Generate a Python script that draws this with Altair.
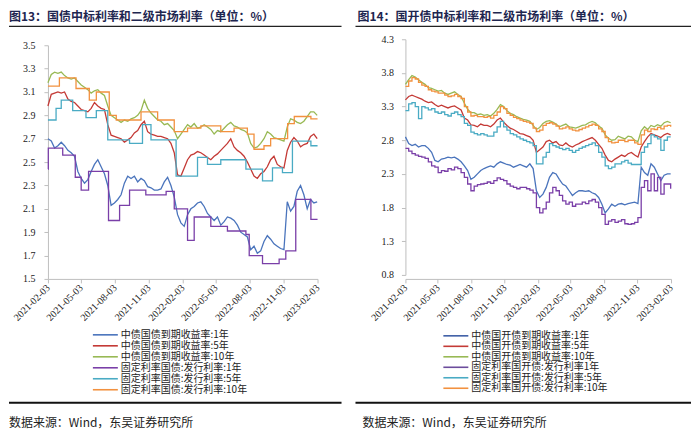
import altair as alt
import pandas as pd

# ---------------- data ----------------
GRID = pd.date_range("2021-02-03", periods=82, freq="9D")

L_NAMES = ["中债国债到期收益率:1年", "中债国债到期收益率:5年", "中债国债到期收益率:10年",
           "固定利率国债:发行利率:1年", "固定利率国债:发行利率:5年", "固定利率国债:发行利率:10年"]
R_NAMES = ["中债国开债到期收益率:1年", "中债国开债到期收益率:5年", "中债国开债到期收益率:10年",
           "固定利率国开债:发行利率1年", "固定利率国开债:发行利率:5年", "固定利率国开债:发行利率:10年"]

L_Y1 = [2.70,2.68,2.62,2.64,2.67,2.64,2.60,2.58,2.55,2.42,
        2.36,2.32,2.35,2.42,2.48,2.52,2.46,2.40,2.30,2.13,
        2.15,2.18,2.22,2.32,2.38,2.36,2.38,2.33,2.36,2.34,
        2.29,2.28,2.26,2.26,2.27,2.33,2.37,2.30,2.20,2.05,
        1.98,1.95,2.05,2.10,2.12,2.15,2.16,2.12,2.06,2.03,
        2.00,2.03,1.96,1.99,2.03,2.02,2.00,1.96,1.90,1.88,
        1.86,1.75,1.78,1.72,1.74,1.82,1.87,1.84,1.80,1.78,
        1.76,1.75,2.16,2.08,2.12,2.25,2.30,2.22,2.10,2.18,
        2.15,2.16]
L_Y5 = [2.98,3.08,3.09,3.10,3.09,3.10,3.04,3.02,3.01,2.98,
        2.95,2.94,2.93,2.96,3.01,2.98,2.96,2.95,2.82,2.73,
        2.72,2.71,2.70,2.67,2.69,2.71,2.75,2.77,2.82,2.85,
        2.76,2.74,2.73,2.72,2.72,2.71,2.70,2.66,2.58,2.39,
        2.38,2.45,2.52,2.56,2.57,2.59,2.58,2.56,2.54,2.52,
        2.55,2.57,2.60,2.63,2.66,2.70,2.63,2.60,2.58,2.55,
        2.50,2.44,2.38,2.36,2.40,2.42,2.46,2.52,2.55,2.48,
        2.46,2.45,2.60,2.67,2.71,2.68,2.63,2.65,2.66,2.72,
        2.74,2.70]
L_Y10 = [3.18,3.25,3.27,3.26,3.27,3.24,3.22,3.21,3.22,3.19,
         3.16,3.14,3.12,3.09,3.11,3.12,3.09,3.07,2.98,2.90,
         2.88,2.86,2.84,2.86,2.85,2.87,2.88,2.90,2.94,3.03,
         2.96,2.92,2.89,2.86,2.85,2.82,2.83,2.80,2.77,2.70,
         2.74,2.78,2.82,2.80,2.83,2.79,2.80,2.82,2.80,2.78,
         2.74,2.77,2.76,2.79,2.82,2.84,2.81,2.80,2.78,2.77,
         2.75,2.66,2.62,2.63,2.66,2.70,2.76,2.74,2.71,2.70,
         2.69,2.68,2.80,2.87,2.86,2.84,2.83,2.85,2.89,2.93,
         2.93,2.90]

L_S1_DATES = ["2021-02-03","2021-02-04","2021-03-15","2021-04-18","2021-05-04","2021-05-24",
              "2021-07-17","2021-08-16","2021-09-12","2021-10-26","2021-12-20","2022-01-11",
              "2022-02-16","2022-03-06","2022-04-20","2022-06-04","2022-07-24","2022-08-02",
              "2022-09-07","2022-10-22","2022-11-09","2022-12-06","2023-01-16","2023-02-03"]
L_S1 = [2.44,2.62,2.56,2.37,2.26,2.42,2.00,2.13,2.26,2.22,2.25,2.10,
        1.83,2.03,1.95,1.91,1.88,1.70,1.63,1.67,1.74,2.18,2.01,2.01]
L_S5_DATES = ["2021-02-03","2021-02-25","2021-03-11","2021-04-11","2021-05-17","2021-06-14",
              "2021-07-15","2021-09-12","2021-10-17","2021-11-09","2022-01-16","2022-03-15",
              "2022-04-11","2022-05-17","2022-07-24","2022-09-07","2022-10-04","2022-10-31",
              "2022-11-27","2023-01-16","2023-02-03"]
L_S5 = [2.86,2.96,3.03,2.94,2.88,2.94,2.69,2.66,2.82,2.69,2.38,2.54,
        2.48,2.52,2.44,2.34,2.45,2.41,2.68,2.64,2.64]
L_S10_DATES = ["2021-02-03","2021-03-06","2021-04-20","2021-05-26","2021-06-14","2021-07-19",
               "2021-08-07","2021-10-13","2021-11-27","2022-01-11","2022-02-16","2022-03-24",
               "2022-05-17","2022-06-22","2022-07-28","2022-08-15","2022-09-11","2022-09-29",
               "2022-11-14","2022-12-02","2023-01-16","2023-02-03"]
L_S10 = [3.15,3.22,3.13,3.03,3.10,2.90,2.86,2.93,2.86,2.76,2.79,2.81,
         2.76,2.79,2.74,2.61,2.64,2.70,2.83,2.89,2.87,2.87]

R_Y1 = [2.85,2.75,2.72,2.74,2.70,2.72,2.72,2.68,2.62,2.50,
        2.48,2.52,2.53,2.55,2.54,2.55,2.52,2.48,2.42,2.35,
        2.22,2.25,2.30,2.35,2.38,2.40,2.42,2.40,2.45,2.48,
        2.46,2.44,2.43,2.40,2.42,2.44,2.42,2.40,2.45,2.38,
        2.05,1.95,2.00,2.10,2.25,2.32,2.30,2.22,2.15,2.12,
        2.05,1.98,2.02,2.05,2.05,2.04,2.05,2.02,2.00,1.95,
        1.85,1.72,1.78,1.85,1.82,1.85,1.86,1.84,1.86,1.87,
        1.88,1.86,2.40,2.32,2.28,2.45,2.40,2.30,2.20,2.28,
        2.30,2.30]
R_Y5 = [3.40,3.45,3.47,3.45,3.43,3.41,3.38,3.36,3.37,3.33,
        3.30,3.32,3.30,3.28,3.30,3.31,3.28,3.25,3.13,3.10,
        3.03,3.02,3.00,3.04,3.02,3.02,3.00,3.04,3.10,3.13,
        3.07,3.02,2.98,2.96,2.93,2.90,2.89,2.87,2.85,2.80,
        2.62,2.66,2.70,2.78,2.80,2.76,2.78,2.73,2.72,2.76,
        2.72,2.70,2.73,2.75,2.78,2.80,2.82,2.84,2.80,2.74,
        2.68,2.58,2.50,2.48,2.52,2.55,2.58,2.56,2.60,2.62,
        2.58,2.55,2.70,2.78,2.85,2.90,2.88,2.86,2.84,2.88,
        2.90,2.88]
R_Y10 = [3.63,3.70,3.76,3.74,3.70,3.66,3.63,3.58,3.57,3.55,
         3.53,3.54,3.50,3.48,3.50,3.52,3.48,3.45,3.35,3.26,
         3.21,3.21,3.18,3.19,3.17,3.18,3.16,3.20,3.26,3.33,
         3.30,3.24,3.20,3.18,3.15,3.13,3.11,3.10,3.08,3.02,
         2.96,2.99,3.05,3.08,3.09,3.07,3.04,3.00,3.02,3.04,
         3.00,2.99,2.98,3.00,3.02,3.03,3.06,3.08,3.06,3.01,
         2.98,2.88,2.83,2.80,2.81,2.86,2.84,2.82,2.86,2.85,
         2.80,2.78,2.94,3.00,2.96,3.02,3.00,3.03,3.01,3.06,
         3.08,3.06]
R_S1 = [2.68,2.64,2.60,2.58,2.56,2.55,2.53,2.48,2.42,2.40,
        2.32,2.35,2.34,2.38,2.36,2.40,2.38,2.32,2.25,2.15,
        2.05,2.12,2.14,2.15,2.16,2.18,2.16,2.20,2.24,2.22,
        2.20,2.15,2.12,2.10,2.08,2.10,2.10,2.08,2.06,2.02,
        1.80,1.72,1.78,1.88,2.02,2.10,2.05,1.98,1.90,1.85,
        1.88,1.82,1.85,1.85,1.88,1.86,1.90,1.92,1.88,1.80,
        1.70,1.55,1.60,1.62,1.58,1.60,1.62,1.56,1.55,1.56,
        1.58,1.65,2.10,2.20,2.05,2.30,2.05,2.25,2.00,2.15,
        2.15,2.08]
R_S5 = [3.24,3.34,3.36,3.30,3.12,3.30,3.28,3.25,3.27,3.22,
        3.20,3.22,3.18,3.16,3.20,3.22,3.18,3.15,3.05,3.02,
        2.92,2.90,2.88,2.90,2.88,2.86,2.86,2.92,3.00,3.08,
        3.00,2.95,2.90,2.88,2.85,2.82,2.80,2.78,2.76,2.72,
        2.45,2.45,2.55,2.62,2.75,2.72,2.70,2.68,2.66,2.68,
        2.65,2.62,2.65,2.68,2.70,2.72,2.74,2.76,2.72,2.62,
        2.55,2.42,2.38,2.40,2.45,2.45,2.48,2.50,2.46,2.44,
        2.44,2.44,2.62,2.70,2.75,2.88,2.85,2.82,2.65,2.80,
        2.85,2.85]
R_S10 = [3.60,3.68,3.73,3.71,3.66,3.62,3.60,3.55,3.53,3.52,
         3.50,3.50,3.47,3.45,3.46,3.48,3.45,3.42,3.30,3.22,
         3.16,3.17,3.15,3.15,3.14,3.15,3.13,3.17,3.22,3.30,
         3.27,3.20,3.17,3.14,3.12,3.10,3.08,3.07,3.05,2.98,
         2.93,2.95,3.02,3.05,3.06,3.04,3.01,2.97,2.98,3.00,
         2.97,2.95,2.94,2.96,2.98,3.00,3.02,3.04,3.02,2.97,
         2.93,2.84,2.78,2.76,2.77,2.80,2.80,2.78,2.80,2.80,
         2.76,2.74,2.88,2.95,2.93,2.97,2.96,2.99,2.97,3.01,
         3.02,3.00]

L_COLORS = ["#4A74BC", "#C43A36", "#98B954", "#7A3FA8", "#4AABC4", "#F2913F"]
R_COLORS = ["#3E5EA6", "#C43A36", "#98B954", "#6C4C9C", "#4AABC4", "#F2913F"]

TICK_MONTHS = [(2021, 2), (2021, 5), (2021, 8), (2021, 11), (2022, 2),
               (2022, 5), (2022, 8), (2022, 11), (2023, 2)]

TITLE_L = "图13：国债中标利率和二级市场利率（单位：%）"
TITLE_R = "图14：国开债中标利率和二级市场利率（单位：%）"
SOURCE = "数据来源：Wind，东吴证券研究所"

CJK = "Noto Sans CJK SC"
SERIF = "Liberation Serif"


def long_df(dates, series_map):
    frames = []
    for name, vals in series_map.items():
        frames.append(pd.DataFrame({"date": pd.to_datetime(list(dates)), "value": vals, "series": name}))
    return pd.concat(frames, ignore_index=True)


def one(val):
    return pd.DataFrame({"t": [val]})


def panel(ydf, sdf, names, colors, ydomain, yticks, yrange, width,
          title, title_dx, rule_x1, rule_x2, src_dx, leg_x, leg_y0, leg_dy, ylab_pad):
    color = alt.Color("series:N", scale=alt.Scale(domain=names, range=colors), legend=None)
    xdomain = [alt.DateTime(year=2021, month=2, date=3, utc=True),
               alt.DateTime(year=2023, month=2, date=3, utc=True)]
    tickvals = [alt.DateTime(year=y, month=m, date=3, utc=True) for y, m in TICK_MONTHS]
    x = alt.X("date:T", title=None,
              scale=alt.Scale(type="utc", domain=xdomain, nice=False),
              axis=alt.Axis(values=tickvals, labelExpr="utcFormat(datum.value, '%Y-%m-%d')",
                            labelAngle=-45, labelAlign="right", labelBaseline="middle",
                            labelPadding=3, labelOverlap=False, labelFlush=False,
                            tickSize=4, grid=False))
    y = alt.Y("value:Q", title=None,
              scale=alt.Scale(domain=ydomain, range=yrange, nice=False, zero=False),
              axis=alt.Axis(values=yticks, format=".1f", tickSize=4, labelPadding=ylab_pad, grid=False))

    lines = alt.Chart(ydf).mark_line(strokeWidth=1.3).encode(x=x, y=y, color=color, detail="series:N")
    steps = alt.Chart(sdf).mark_line(strokeWidth=1.3, interpolate="step-after").encode(
        x=x, y=y, color=color, detail="series:N")

    decor = []
    # invisible top anchor so the title glyphs stay inside the drawing
    decor.append(alt.Chart(one(0)).mark_rule(color="white", strokeWidth=0.5).encode(
        x=alt.value(rule_x1 + 2), x2=alt.value(rule_x1 + 4), y=alt.value(-30)))
    decor.append(alt.Chart(one(title)).mark_text(
        align="left", baseline="middle", font=CJK, fontSize=12, fontWeight="bold", color="#1E2650"
    ).encode(text="t:N", x=alt.value(title_dx), y=alt.value(-22)))
    decor.append(alt.Chart(one(0)).mark_rule(color="#222222", strokeWidth=1.2).encode(
        x=alt.value(rule_x1), x2=alt.value(rule_x2), y=alt.value(-13)))
    decor.append(alt.Chart(one(0)).mark_rule(color="#111111", strokeWidth=2).encode(
        x=alt.value(rule_x1), x2=alt.value(rule_x2), y=alt.value(364)))
    decor.append(alt.Chart(one(SOURCE)).mark_text(
        align="left", baseline="middle", font=CJK, fontSize=12, color="#222222"
    ).encode(text="t:N", x=alt.value(src_dx), y=alt.value(384)))
    for i, (nm, col) in enumerate(zip(names, colors)):
        yy = leg_y0 + leg_dy * i
        decor.append(alt.Chart(one(nm)).mark_rule(color=col, strokeWidth=1.6).encode(
            x=alt.value(leg_x), x2=alt.value(leg_x + 25), y=alt.value(yy)))
        decor.append(alt.Chart(one(nm)).mark_text(
            align="left", baseline="middle", font=CJK, fontSize=10, color="#222222"
        ).encode(text="t:N", x=alt.value(leg_x + 28), y=alt.value(yy)))

    return alt.layer(lines, steps, *decor).properties(width=width, height=240)


left_y = long_df(GRID, {L_NAMES[0]: L_Y1, L_NAMES[1]: L_Y5, L_NAMES[2]: L_Y10})
left_s = pd.concat([
    long_df(L_S1_DATES, {L_NAMES[3]: L_S1}),
    long_df(L_S5_DATES, {L_NAMES[4]: L_S5}),
    long_df(L_S10_DATES, {L_NAMES[5]: L_S10}),
], ignore_index=True)
right_y = long_df(GRID, {R_NAMES[0]: R_Y1, R_NAMES[1]: R_Y5, R_NAMES[2]: R_Y10})
right_s = long_df(GRID, {R_NAMES[3]: R_S1, R_NAMES[4]: R_S5, R_NAMES[5]: R_S10})

L_TICKS = [1.5, 1.7, 1.9, 2.1, 2.3, 2.5, 2.7, 2.9, 3.1, 3.3, 3.5]
R_TICKS = [0.8, 1.3, 1.8, 2.3, 2.8, 3.3, 3.8, 4.3]

left = panel(left_y, left_s, L_NAMES, L_COLORS, [1.5, 3.5], L_TICKS, [240, 6], 270,
             TITLE_L, -39, -39, 294, -39, 45, 296, 11, 9)
right = panel(right_y, right_s, R_NAMES, R_COLORS, [0.8, 4.3], R_TICKS, [236, 0], 266,
              TITLE_R, -48, -50, 286, -43, 38, 297, 10.5, 8)

chart = alt.hconcat(left, right, spacing=88, bounds="flush").properties(
    padding=0
).configure_view(stroke=None).configure_axis(
    domainColor="#BFBFBF", tickColor="#BFBFBF", labelFont=SERIF, labelFontSize=10,
    labelColor="#222222"
)

chart.save("out.html", embed_options={"renderer": "svg", "actions": False})
